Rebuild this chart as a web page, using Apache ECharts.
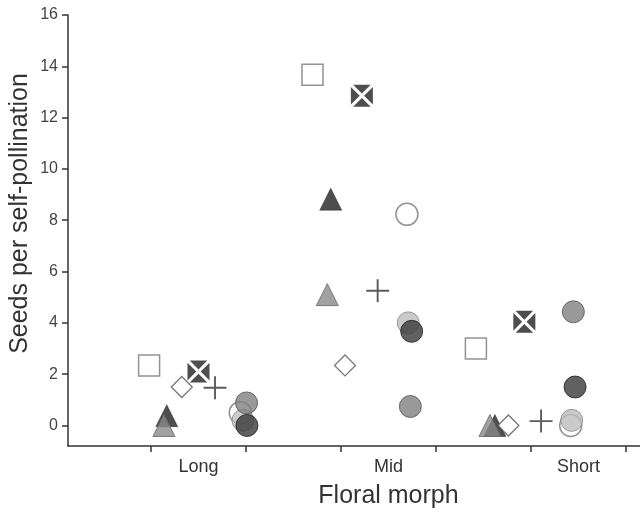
<!DOCTYPE html>
<html lang="en" style="height: 100%">
<head>
  <meta charset="utf-8">
</head>
<body style="height: 100%; margin: 0">
  <div id="container" style="width: 640px; height: 512px"></div>

  <script type="text/javascript" src="https://cdn.jsdelivr.net/npm/echarts@6/dist/echarts.min.js"></script>
  <script type="text/javascript">
    var morphs = ['Long', 'Mid', 'Short'];
    var yTicks = [0, 2, 4, 6, 8, 10, 12, 14, 16];

    // seeds per self-pollination, one value per morph (Long, Mid, Short)
    var openSquare = [2.34, 13.67, 3.0];
    var crossBox = [2.1, 12.85, 4.04];
    var blackTri = [0.38, 8.82, 0.0];
    var grayTri = [0.0, 5.1, 0.0];
    var diamond = [1.5, 2.34, 0.0];
    var plus = [1.47, 5.25, 0.17];
    var openCircle = [0.5, 8.23, 0.0];
    var lightCircle = [0.2, 4.0, 0.2];
    var midCircle = [0.88, 0.74, 4.43];
    var darkCircle = [0.0, 3.67, 1.5];

    // horizontal jitter of each population inside a morph
    var openSquareJit = [-0.26, -0.40, -0.54];
    var crossBoxJit = [0.0, -0.14, -0.285];
    var blackTriJit = [-0.167, -0.304, -0.44];
    var grayTriJit = [-0.182, -0.322, -0.466];
    var diamondJit = [-0.088, -0.229, -0.369];
    var plusJit = [0.087, -0.057, -0.197];
    var openCircleJit = [0.22, 0.097, -0.041];
    var lightCircleJit = [0.234, 0.104, -0.036];
    var midCircleJit = [0.253, 0.115, -0.027];
    var darkCircleJit = [0.255, 0.122, -0.018];

    function pts(vals, jit) {
      return morphs.map(function (m, i) {
        return [i + 1 + jit[i], vals[i]];
      });
    }

    var crossPath = 'path://M2,0L18,0L10,8Z M20,2L20,18L12,10Z M18,20L2,20L10,12Z M0,18L0,2L8,10Z';
    var plusPath = 'path://M11,0H13V11H24V13H13V24H11V13H0V11H11Z';

    function mk(name, vals, jit, symbol, size, style) {
      return {
        name: name,
        type: 'scatter',
        data: pts(vals, jit),
        symbol: symbol,
        symbolSize: size,
        itemStyle: style,
        emphasis: { disabled: true }
      };
    }

    var dom = document.getElementById('container');
    var myChart = echarts.init(dom, null, { renderer: 'canvas' });

    var option = {
      animation: false,
      grid: { left: 68, right: 0, top: 15, bottom: 66, outerBoundsMode: 'none', containLabel: false },
      xAxis: {
        type: 'value',
        min: 0.3132,
        max: 3.3237,
        name: 'Floral morph',
        nameLocation: 'middle',
        nameGap: 38,
        nameMoveOverlap: false,
        nameTextStyle: { fontSize: 25, color: '#333', fontFamily: 'Liberation Sans', padding: [0, 0, 0, 69] },
        splitLine: { show: false },
        axisLine: { onZero: false, lineStyle: { color: '#333', width: 1.5 } },
        axisTick: { show: true, length: 6, lineStyle: { color: '#333', width: 1.5 }, customValues: [0.75, 1.25, 1.75, 2.25, 2.75, 3.25] },
        axisLabel: {
          customValues: [1, 2, 3],
          margin: 12,
          fontSize: 18,
          color: '#333',
          fontFamily: 'Liberation Sans',
          formatter: function (v) { return morphs[Math.round(v) - 1]; }
        }
      },
      yAxis: {
        type: 'value',
        min: -0.8,
        max: 16,
        name: 'Seeds per self-pollination',
        nameLocation: 'middle',
        nameGap: 35,
        nameMoveOverlap: false,
        nameTextStyle: { fontSize: 25, color: '#333', fontFamily: 'Liberation Sans', padding: [0, 0, 0, 34] },
        splitLine: { show: false },
        axisLine: { show: true, onZero: false, lineStyle: { color: '#333', width: 1.5 } },
        axisTick: { show: true, length: 6, lineStyle: { color: '#333', width: 1.5 }, customValues: yTicks },
        axisLabel: { customValues: yTicks, margin: 10, fontSize: 16, color: '#444', fontFamily: 'Liberation Sans' }
      },
      series: [
        mk('openSquare', openSquare, openSquareJit, 'rect', 21, { color: '#fff', borderColor: '#777', borderWidth: 1.5 }),
        mk('crossBox', crossBox, crossBoxJit, crossPath, 22, { color: '#222' }),
        mk('blackTri', blackTri, blackTriJit, 'triangle', 22, { color: '#222', borderColor: '#111', borderWidth: 0.5 }),
        mk('grayTri', grayTri, grayTriJit, 'triangle', 22, { color: '#8a8a8a', borderColor: '#666', borderWidth: 1 }),
        mk('diamond', diamond, diamondJit, 'diamond', 21, { color: '#fff', borderColor: '#555', borderWidth: 1.3 }),
        mk('plus', plus, plusJit, plusPath, 23, { color: '#333' }),
        mk('openCircle', openCircle, openCircleJit, 'circle', 22, { color: '#fff', borderColor: '#777', borderWidth: 1.5 }),
        mk('lightCircle', lightCircle, lightCircleJit, 'circle', 22, { color: '#bdbdbd', borderColor: '#888', borderWidth: 1 }),
        mk('midCircle', midCircle, midCircleJit, 'circle', 22, { color: '#808080', borderColor: '#555', borderWidth: 1 }),
        mk('darkCircle', darkCircle, darkCircleJit, 'circle', 22, { color: '#3a3a3a', borderColor: '#222', borderWidth: 1 })
      ]
    };

    myChart.setOption(option);
    window.addEventListener('resize', myChart.resize);
  </script>
</body>
</html>
